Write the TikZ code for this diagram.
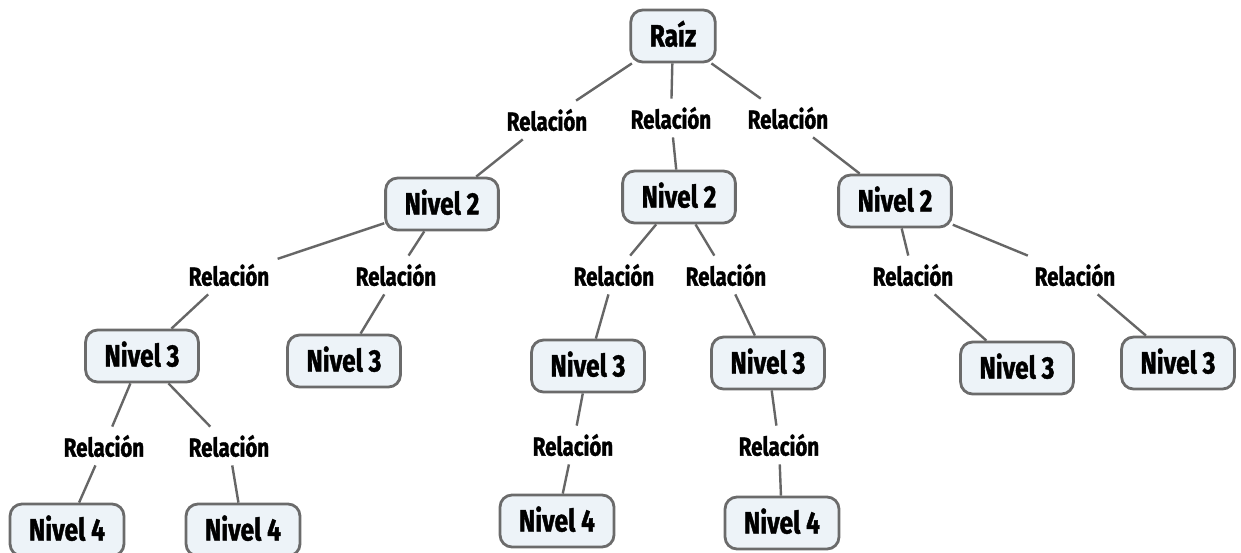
\documentclass[tikz,border=0pt]{standalone}
\usepackage{fontspec}
\newfontfamily\mapfont[FakeStretch=0.79, BoldFeatures={FakeBold=1.3}]{Fira Sans}

\begin{document}
\begin{tikzpicture}[x=0.5pt, y=-0.5pt,
        concept/.style={draw=black!58, line width=1.4pt, fill={rgb,255:red,237;green,243;blue,248},
            rounded corners=6pt, minimum height=26pt, inner xsep=9.5pt,
            text height=10.5pt, text depth=0pt, font=\mapfont\bfseries\fontsize{15.5}{17}\selectfont},
        link/.style={fill=white, inner xsep=4pt, minimum height=19pt,
            font=\mapfont\bfseries\fontsize{13}{15}\selectfont},
        wire/.style={draw=black!60, line width=1.2pt}]

        \useasboundingbox (0,0) rectangle (1241,552);

        % concepts
        \node[concept] (root) at (673,36) {Raíz};
        \node[concept] (n2a) at (442,204) {Nivel 2};
        \node[concept] (n2b) at (679,197) {Nivel 2};
        \node[concept] (n2c) at (895,201) {Nivel 2};
        \node[concept] (n3a) at (142,356) {Nivel 3};
        \node[concept] (n3b) at (344,361) {Nivel 3};
        \node[concept] (n3c) at (588,366) {Nivel 3};
        \node[concept] (n3d) at (768,363) {Nivel 3};
        \node[concept] (n3e) at (1017,368) {Nivel 3};
        \node[concept] (n3f) at (1178,363) {Nivel 3};
        \node[concept] (n4a) at (67,530) {Nivel 4};
        \node[concept] (n4b) at (243,530) {Nivel 4};
        \node[concept] (n4c) at (557,521) {Nivel 4};
        \node[concept] (n4d) at (782,523) {Nivel 4};

        % links
        \node[link] (r1a) at (547,120) {Relación};
        \node[link] (r1b) at (671,118) {Relación};
        \node[link] (r1c) at (788,118) {Relación};
        \node[link] (r2a) at (229,275) {Relación};
        \node[link] (r2b) at (396,275) {Relación};
        \node[link] (r2c) at (614,275) {Relación};
        \node[link] (r2d) at (726,275) {Relación};
        \node[link] (r2e) at (913,275) {Relación};
        \node[link] (r2f) at (1075,275) {Relación};
        \node[link] (r3a) at (104,446) {Relación};
        \node[link] (r3b) at (229,446) {Relación};
        \node[link] (r3c) at (573,445) {Relación};
        \node[link] (r3d) at (779,445) {Relación};

        \draw[wire] (root) -- (r1a) -- (n2a);
        \draw[wire] (root) -- (r1b) -- (n2b);
        \draw[wire] (root) -- (r1c) -- (n2c);
        \draw[wire] (n2a) -- (r2a) -- (n3a);
        \draw[wire] (n2a) -- (r2b) -- (n3b);
        \draw[wire] (n2b) -- (r2c) -- (n3c);
        \draw[wire] (n2b) -- (r2d) -- (n3d);
        \draw[wire] (n2c) -- (r2e) -- (n3e);
        \draw[wire] (n2c) -- (r2f) -- (n3f);
        \draw[wire] (n3a) -- (r3a) -- (n4a);
        \draw[wire] (n3a) -- (r3b) -- (n4b);
        \draw[wire] (n3c) -- (r3c) -- (n4c);
        \draw[wire] (n3d) -- (r3d) -- (n4d);

\end{tikzpicture}
\end{document}
